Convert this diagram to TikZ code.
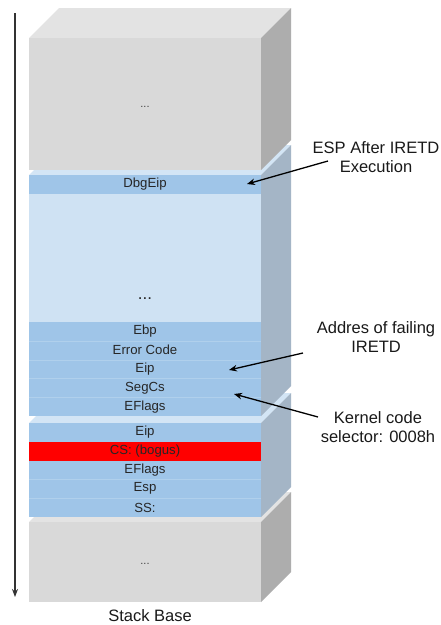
\documentclass[tikz,border=0pt]{standalone}
\usepackage{fontspec}
\setmainfont{Liberation Sans}
\usetikzlibrary{arrows.meta}

\definecolor{rowblue}{HTML}{9FC5E8}
\definecolor{paleblue}{HTML}{CFE2F3}
\definecolor{blueside}{HTML}{A4B5C6}
\definecolor{bluetop}{HTML}{D3E5F5}
\definecolor{greyfront}{HTML}{D9D9D9}
\definecolor{greytop}{HTML}{E3E3E3}
\definecolor{greyside}{HTML}{ADADAD}
\definecolor{divider}{HTML}{B0D0EC}
\definecolor{bogus}{HTML}{FF0000}

% one slab of the stack: #1 front top, #2 front bottom, #3 front, #4 top, #5 side
\newcommand\stackslab[5]{%
  \fill[#4] (29,#1) -- (261,#1) -- (291,#1-30) -- (59,#1-30) -- cycle;
  \fill[#3] (29,#1) rectangle (261,#2);
  \fill[#5] (261,#1) -- (291,#1-30) -- (291,#2-30) -- (261,#2) -- cycle;
}

\tikzset{
  row/.style={rectangle, minimum width=232pt, minimum height=18.8pt,
    inner sep=0pt, fill=rowblue, text=black!85,
    font=\fontsize{13.2}{15}\selectfont},
  rowline/.style={divider, line width=0.6pt},
  note/.style={align=center, text=black!90, inner sep=0pt,
    font=\fontsize{16.5}{19}\selectfont},
  notearrow/.style={line width=1.3pt, black,
    -{Stealth[length=8pt,width=6.5pt]}},
  dots/.style={text=black!75, inner sep=0pt},
}

\begin{document}
\begin{tikzpicture}[x=1pt, y=-1pt]
\useasboundingbox (0,0) rectangle (441,625);
\fill[white] (0,0) rectangle (441,625);

% slabs, drawn from the base upwards
\stackslab{522}{602}{greyfront}{greytop}{greyside}
\stackslab{423}{517}{rowblue}{bluetop}{blueside}
\stackslab{175}{416}{paleblue}{bluetop}{blueside}
\stackslab{38}{170}{greyfront}{greytop}{greyside}

% filler text
\node[dots, font=\fontsize{11}{13}\selectfont] (topdots) at (145,107) {...};
\node[dots, font=\fontsize{17}{19}\selectfont, text=black!85] (middots) at (145,299) {...};
\node[dots, font=\fontsize{11}{13}\selectfont] (basedots) at (145,564) {...};

% upper frame
\node[row, minimum height=19pt] (dbg) at (145,184.5) {DbgEip};
\node[row] (ebp)  at (145,331.4) {Ebp};
\node[row] (err)  at (145,350.2) {Error Code};
\node[row] (eipa) at (145,369.0) {Eip};
\node[row] (segcs) at (145,387.8) {SegCs};
\node[row] (eflagsa) at (145,406.6) {EFlags};
\foreach \r in {ebp,err,eipa,segcs}
  \draw[rowline] (\r.south west) -- (\r.south east);

% lower frame
\node[row] (eipb) at (145,432.4) {Eip};
\node[row, fill=bogus] (cs) at (145,451.2) {CS: (bogus)};
\node[row] (eflagsb) at (145,470.0) {EFlags};
\node[row] (esp) at (145,488.8) {Esp};
\node[row] (ss) at (145,507.6) {SS:};
\foreach \r in {eflagsb,esp}
  \draw[rowline] (\r.south west) -- (\r.south east);

% growth direction of the stack
\coordinate (axtop) at (15,13);
\coordinate (axbot) at (15,597);
\draw[line width=1.5pt, black!80, -{Stealth[length=8pt,width=6pt]}] (axtop) -- (axbot);
\node[note] (base) at (150,616) {Stack Base};

% annotations
\node[note] (espnote) at (376,157.5) {ESP After IRETD\\Execution};
\coordinate (espfrom) at (328,161);
\coordinate (espto) at (247,184);
\draw[notearrow] (espfrom) -- (espto);

\node[note] (failnote) at (376,337) {Addres of failing\\IRETD};
\coordinate (failfrom) at (303,353);
\coordinate (failto) at (229,370);
\draw[notearrow] (failfrom) -- (failto);

\node[note] (kernnote) at (378,427.5) {Kernel code\\selector: 0008h};
\coordinate (kernfrom) at (318,417);
\coordinate (kernto) at (234,394);
\draw[notearrow] (kernfrom) -- (kernto);
\end{tikzpicture}
\end{document}
